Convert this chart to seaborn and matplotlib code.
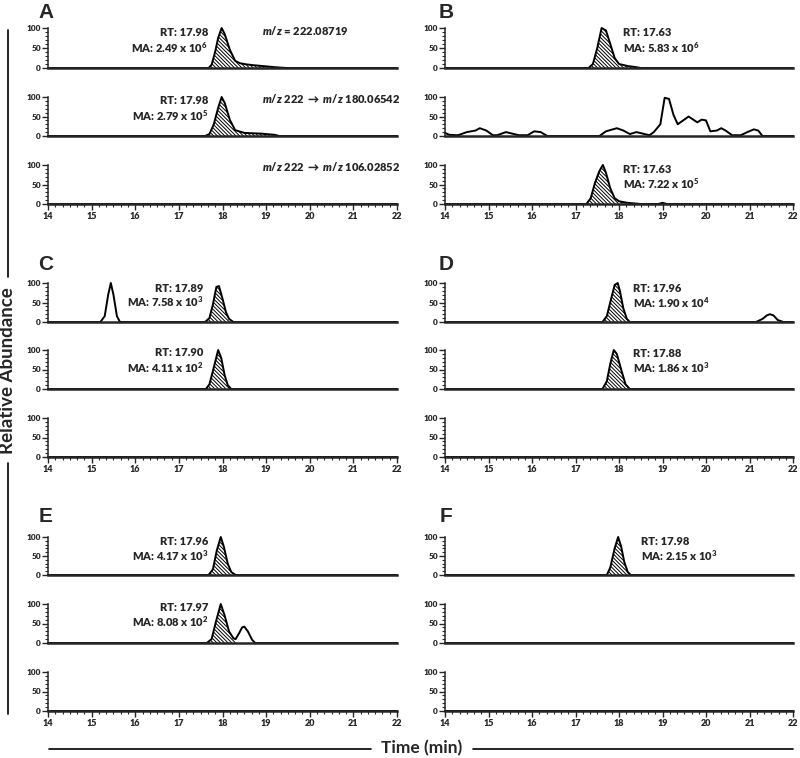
import matplotlib
matplotlib.use("Agg")
import numpy as np
import matplotlib.pyplot as plt
import seaborn as sns
from matplotlib.lines import Line2D
from matplotlib.ticker import MultipleLocator, NullLocator

# ---- chromatogram traces: time (min) / relative abundance (%) ----
# panel A
a1_t = [14.0, 17.68, 17.75, 17.83, 17.9, 17.98, 18.05, 18.17, 18.29, 18.4, 18.55, 18.71, 19.01, 19.2, 19.47, 22.0]
a1_y = [0, 0, 8, 40, 75, 100, 85, 45, 18, 12, 9, 7, 4, 2, 0, 0]
a2_t = [14.0, 17.6, 17.7, 17.8, 17.9, 17.98, 18.05, 18.17, 18.29, 18.5, 18.9, 19.2, 19.3, 22.0]
a2_y = [0, 0, 5, 30, 72, 100, 85, 41, 15, 8, 6, 3, 0, 0]
a3_t = [14.0, 22.0]
a3_y = [0, 0]
# panel B
b1_t = [14.0, 17.3, 17.4, 17.5, 17.6, 17.7, 17.8, 17.9, 18.0, 18.2, 18.4, 18.5, 22.0]
b1_y = [0, 0, 10, 50, 100, 94, 60, 25, 10, 5, 2, 0, 0]
b2_t = [14.0, 14.1, 14.3, 14.5, 14.7, 14.8, 14.95, 15.1, 15.2, 15.4, 15.55, 15.7, 15.9, 16.05,
        16.2, 16.35, 17.55, 17.7, 17.95, 18.1, 18.25, 18.4, 18.55, 18.7, 18.8, 18.95, 19.05,
        19.15, 19.25, 19.35, 19.6, 19.8, 19.9, 20.0, 20.1, 20.25, 20.35, 20.45, 20.6, 20.8,
        20.95, 21.1, 21.2, 21.3, 22.0]
b2_y = [8, 3, 2, 10, 14, 20, 14, 2, 2, 10, 6, 2, 2, 12,
        10, 0, 0, 12, 20, 14, 5, 10, 6, 2, 10, 30, 98,
        95, 55, 30, 50, 35, 42, 40, 12, 14, 20, 14, 2, 2,
        10, 17, 14, 0, 0]
b3_t = [14.0, 17.25, 17.35, 17.45, 17.55, 17.63, 17.7, 17.8, 17.9, 18.0, 18.2, 18.4, 18.5,
        18.9, 19.0, 19.1, 22.0]
b3_y = [0, 0, 15, 55, 85, 100, 80, 40, 15, 7, 3, 1, 0, 0, 3, 0, 0]
# panel C
c1_t = [14.0, 15.2, 15.3, 15.38, 15.44, 15.5, 15.58, 15.65, 17.6, 17.7, 17.78, 17.86, 17.92,
        18.0, 18.08, 18.15, 18.25, 22.0]
c1_y = [0, 0, 15, 70, 100, 70, 15, 0, 0, 10, 45, 90, 92, 60, 25, 8, 0, 0]
c2_t = [14.0, 17.62, 17.7, 17.8, 17.9, 17.97, 18.05, 18.12, 18.2, 22.0]
c2_y = [0, 0, 12, 55, 100, 80, 35, 10, 0, 0]
c3_t = [14.0, 22.0]
c3_y = [0, 0]
# panel D
d1_t = [14.0, 17.62, 17.72, 17.82, 17.9, 17.97, 18.02, 18.1, 18.18, 18.25, 21.15, 21.3, 21.4,
        21.47, 21.55, 21.65, 21.78, 22.0]
d1_y = [0, 0, 15, 60, 95, 100, 80, 35, 8, 0, 0, 8, 17, 20, 17, 5, 0, 0]
d2_t = [14.0, 17.62, 17.72, 17.8, 17.88, 17.95, 18.05, 18.15, 18.25, 22.0]
d2_y = [0, 0, 20, 65, 100, 90, 50, 12, 0, 0]
d3_t = [14.0, 22.0]
d3_y = [0, 0]
# panel E
e1_t = [14.0, 17.68, 17.78, 17.87, 17.96, 18.03, 18.12, 18.2, 18.3, 22.0]
e1_y = [0, 0, 15, 65, 100, 75, 30, 8, 0, 0]
e2_t = [14.0, 17.64, 17.75, 17.85, 17.96, 18.05, 18.15, 18.25, 18.3, 18.38, 18.45, 18.5,
        18.58, 18.68, 18.75, 22.0]
e2_y = [0, 0, 10, 55, 100, 70, 30, 12, 10, 25, 40, 42, 30, 8, 0, 0]
e3_t = [14.0, 22.0]
e3_y = [0, 0]
# panel F
f1_t = [14.0, 17.72, 17.8, 17.9, 17.98, 18.05, 18.12, 18.2, 18.27, 22.0]
f1_y = [0, 0, 20, 70, 100, 75, 35, 8, 0, 0]
f2_t = [14.0, 22.0]
f2_y = [0, 0]
f3_t = [14.0, 22.0]
f3_y = [0, 0]

# integrated (hatched) peak windows
a1_win = (17.6, 19.5)
a2_win = (17.6, 19.3)
b1_win = (17.3, 18.5)
b3_win = (17.25, 18.5)
c1_win = (17.6, 18.25)
c2_win = (17.62, 18.2)
d1_win = (17.62, 18.25)
d2_win = (17.62, 18.25)
e1_win = (17.68, 18.3)
e2_win = (17.64, 18.3)
f1_win = (17.72, 18.27)

sns.set_theme(style="ticks")
plt.rcParams['font.family'] = ['Lato', 'DejaVu Sans']
plt.rcParams['font.weight'] = 'heavy'
plt.rcParams['mathtext.fontset'] = 'custom'
plt.rcParams['mathtext.rm'] = 'Lato:heavy'
plt.rcParams['mathtext.it'] = 'Lato:italic:heavy'
plt.rcParams['mathtext.bf'] = 'Lato:heavy'
plt.rcParams['mathtext.default'] = 'regular'
plt.rcParams['hatch.linewidth'] = 0.7

W, H = 800, 758
fig = plt.figure(figsize=(W / 100, H / 100), dpi=100)


def make_ax(x0, x1, top, bottom):
    return fig.add_axes([x0 / W, 1 - bottom / H, (x1 - x0) / W, (bottom - top) / H])


def trace(ax, t, y, win=None, last=False):
    sns.lineplot(x=t, y=y, ax=ax, color='black', lw=1.4, estimator=None, sort=False,
                 clip_on=False)
    if win is not None:
        t = np.array(t)
        y = np.array(y)
        m = (t >= win[0]) & (t <= win[1])
        ax.fill_between(t, y, where=m, facecolor='white', edgecolor='black',
                        hatch='\\' * 9, linewidth=0)
    ax.set_xlim(14, 22)
    ax.set_ylim(0, 100)
    ax.set_facecolor('none')
    ax.spines['top'].set_visible(False)
    ax.spines['right'].set_visible(False)
    ax.spines['bottom'].set_linewidth(1.8)
    ax.spines['left'].set_linewidth(1.1)
    ax.set_yticks([0, 50, 100])
    ax.set_yticklabels(['0', '50', '100'])
    ax.yaxis.set_minor_locator(MultipleLocator(10))
    ax.tick_params(axis='y', which='major', length=4, width=1, labelsize=6, pad=1)
    ax.tick_params(axis='y', which='minor', length=2.3, width=0.8)
    if last:
        ax.set_xticks(range(14, 23))
        ax.xaxis.set_minor_locator(MultipleLocator(1 / 6))
        ax.tick_params(axis='x', which='major', length=4, width=1, labelsize=6.5, pad=2)
        ax.tick_params(axis='x', which='minor', length=2.5, width=0.8)
    else:
        ax.set_xticks([])
        ax.xaxis.set_minor_locator(NullLocator())
    ax.set_xlabel('')
    ax.set_ylabel('')


def note(ax, x, y, s, ha):
    ax.text(x, y, s, ha=ha, va='center', fontsize=8, fontweight='heavy', clip_on=False)


LX = (48, 397)
RX = (445, 793)
rows = [(28, 68), (97, 136), (165, 204), (283, 322), (350, 389), (418, 457),
        (537, 575), (604, 643), (672, 711)]

axA = [make_ax(*LX, *rows[i]) for i in range(0, 3)]
axB = [make_ax(*RX, *rows[i]) for i in range(0, 3)]
axC = [make_ax(*LX, *rows[i]) for i in range(3, 6)]
axD = [make_ax(*RX, *rows[i]) for i in range(3, 6)]
axE = [make_ax(*LX, *rows[i]) for i in range(6, 9)]
axF = [make_ax(*RX, *rows[i]) for i in range(6, 9)]

trace(axA[0], a1_t, a1_y, a1_win)
trace(axA[1], a2_t, a2_y, a2_win)
trace(axA[2], a3_t, a3_y, last=True)
trace(axB[0], b1_t, b1_y, b1_win)
trace(axB[1], b2_t, b2_y)
trace(axB[2], b3_t, b3_y, b3_win, last=True)
trace(axC[0], c1_t, c1_y, c1_win)
trace(axC[1], c2_t, c2_y, c2_win)
trace(axC[2], c3_t, c3_y, last=True)
trace(axD[0], d1_t, d1_y, d1_win)
trace(axD[1], d2_t, d2_y, d2_win)
trace(axD[2], d3_t, d3_y, last=True)
trace(axE[0], e1_t, e1_y, e1_win)
trace(axE[1], e2_t, e2_y, e2_win)
trace(axE[2], e3_t, e3_y, last=True)
trace(axF[0], f1_t, f1_y, f1_win)
trace(axF[1], f2_t, f2_y)
trace(axF[2], f3_t, f3_y, last=True)

# peak annotations
note(axA[0], 17.67, 90, 'RT: 17.98', 'right')
note(axA[0], 17.67, 52, r'MA: 2.49 x $10^{6}$', 'right')
note(axA[1], 17.67, 90, 'RT: 17.98', 'right')
note(axA[1], 17.67, 51, r'MA: 2.79 x $10^{5}$', 'right')
note(axA[0], 18.91, 95, r'$\mathit{m/z}$ = 222.08719', 'left')
note(axA[1], 18.91, 97, r'$\mathit{m/z}$ 222 $\rightarrow$ $\mathit{m/z}$ 180.06542', 'left')
note(axA[2], 18.91, 97, r'$\mathit{m/z}$ 222 $\rightarrow$ $\mathit{m/z}$ 106.02852', 'left')
note(axB[0], 18.09, 88, 'RT: 17.63', 'left')
note(axB[0], 18.09, 52, r'MA: 5.83 x $10^{6}$', 'left')
note(axB[2], 18.09, 88, 'RT: 17.63', 'left')
note(axB[2], 18.09, 52, r'MA: 7.22 x $10^{5}$', 'left')
note(axC[0], 17.56, 87, 'RT: 17.89', 'right')
note(axC[0], 17.56, 51, r'MA: 7.58 x $10^{3}$', 'right')
note(axC[1], 17.56, 93, 'RT: 17.90', 'right')
note(axC[1], 17.56, 55, r'MA: 4.11 x $10^{2}$', 'right')
note(axD[0], 18.32, 85, 'RT: 17.96', 'left')
note(axD[0], 18.32, 49, r'MA: 1.90 x $10^{4}$', 'left')
note(axD[1], 18.32, 92, 'RT: 17.88', 'left')
note(axD[1], 18.32, 54, r'MA: 1.86 x $10^{3}$', 'left')
note(axE[0], 17.67, 87, 'RT: 17.96', 'right')
note(axE[0], 17.67, 50, r'MA: 4.17 x $10^{3}$', 'right')
note(axE[1], 17.67, 90, 'RT: 17.97', 'right')
note(axE[1], 17.67, 54, r'MA: 8.08 x $10^{2}$', 'right')
note(axF[0], 18.5, 87, 'RT: 17.98', 'left')
note(axF[0], 18.5, 50, r'MA: 2.15 x $10^{3}$', 'left')

# panel letters
for letter, x, y in [('A', 46, 12), ('B', 446, 12), ('C', 46, 265), ('D', 446, 265),
                     ('E', 46, 517), ('F', 446, 517)]:
    fig.text(x / W, 1 - y / H, letter, ha='center', va='center', fontsize=15,
             fontweight='bold', family=['Liberation Sans', 'DejaVu Sans'])

# shared axis titles with rules
fig.text(8 / W, 1 - 371 / H, 'Relative Abundance', rotation=90, ha='center', va='center',
         fontsize=13.5, fontweight='bold')
fig.add_artist(Line2D([8 / W, 8 / W], [1 - 30 / H, 1 - 277 / H], color='black', lw=1.2))
fig.add_artist(Line2D([8 / W, 8 / W], [1 - 463 / H, 1 - 714 / H], color='black', lw=1.2))

fig.text(422 / W, 1 - 748 / H, 'Time (min)', ha='center', va='center', fontsize=12.5,
         fontweight='bold')
fig.add_artist(Line2D([49 / W, 371 / W], [1 - 749 / H, 1 - 749 / H], color='black', lw=1.2))
fig.add_artist(Line2D([473 / W, 793 / W], [1 - 749 / H, 1 - 749 / H], color='black', lw=1.2))

fig.savefig('out.png', dpi=100, facecolor='white')
